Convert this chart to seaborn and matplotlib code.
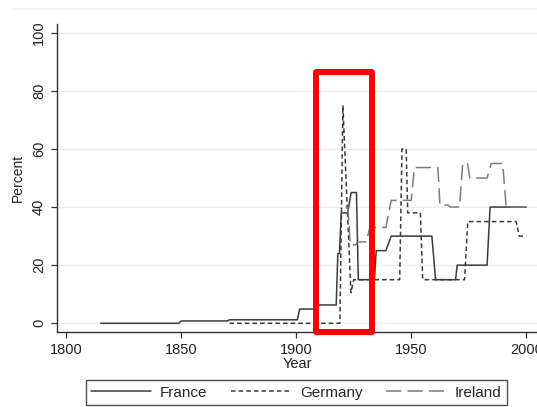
import matplotlib
matplotlib.use("Agg")
import matplotlib.pyplot as plt
from matplotlib.patches import Rectangle
from matplotlib.lines import Line2D
import seaborn as sns
import pandas as pd

# series (year, percent)
france_years = [1815, 1849, 1850, 1870, 1871, 1900.5, 1901.5, 1909, 1910, 1917.4, 1918.1, 1918.8,
                1919.6, 1922.4, 1923.9, 1926.2, 1927, 1934, 1934.8, 1939, 1941.3, 1959, 1960.6,
                1969.3, 1970, 1983, 1984.3, 2000]
france_pct = [0, 0, 0.8, 0.8, 1.2, 1.2, 4.9, 4.9, 6.3, 6.3, 24, 24,
              38, 38, 45, 45, 15, 15, 25, 25, 30, 30, 15,
              15, 20, 20, 40, 40]

germany_years = [1871, 1919, 1920.3, 1923.8, 1925, 1945, 1946, 1947.8, 1948.5, 1954, 1955,
                 1973.2, 1974.6, 1995.6, 1997, 2000]
germany_pct = [0, 0, 75, 10.5, 15, 15, 60, 60, 38, 38, 15,
               15, 35, 35, 30, 30]

ireland_years = [1921.5, 1922.5, 1923.5, 1926, 1926.5, 1930.5, 1932, 1939, 1941.3, 1950, 1951.4,
                 1961.6, 1962.5, 1966, 1967, 1971, 1972.4, 1974.5, 1975.5, 1983, 1984.8, 1989.8,
                 1991.3, 2000]
ireland_pct = [40, 40, 27, 27, 28, 28, 33, 33, 42.3, 42.3, 53.6,
               53.6, 40.7, 40.7, 40, 40, 55, 55, 50, 50, 55, 55,
               40, 40]

countries = ["France", "Germany", "Ireland"]
x_ticks = [1800, 1850, 1900, 1950, 2000]
y_ticks = [0, 20, 40, 60, 80, 100]

# highlighted window (years / percent) marked by the red box
box_years = (1908.7, 1932.9)
box_pct = (-3.0, 86.4)

df = pd.concat([
    pd.DataFrame({"Year": france_years, "Percent": france_pct, "country": "France"}),
    pd.DataFrame({"Year": germany_years, "Percent": germany_pct, "country": "Germany"}),
    pd.DataFrame({"Year": ireland_years, "Percent": ireland_pct, "country": "Ireland"}),
])

sns.set_style("white")
plt.rcParams["font.family"] = ["Liberation Sans", "DejaVu Sans"]

styles = {
    "France": dict(color="#3a3a3a", dashes=(None, None)),
    "Germany": dict(color="#3a3a3a", dashes=(3, 2)),
    "Ireland": dict(color="#7c7c7c", dashes=(10, 4)),
}

fig = plt.figure(figsize=(5.37, 4.07), dpi=100)
ax = fig.add_axes([57 / 537, 1 - 332 / 407, 480 / 537, 308 / 407])

handles = []
for c in countries:
    sub = df[df["country"] == c]
    st = styles[c]
    sns.lineplot(data=sub, x="Year", y="Percent", ax=ax, sort=False, estimator=None,
                 color=st["color"], lw=1.1, legend=False)
    line = ax.lines[-1]
    if st["dashes"][0] is not None:
        line.set_dashes(st["dashes"])
    handles.append(Line2D([], [], color=st["color"], lw=1.1,
                          dashes=st["dashes"] if st["dashes"][0] is not None else (None, None),
                          label=c))

ax.set_xlim(1796, 2004.7)
ax.set_ylim(-3, 103)
ax.set_xticks(x_ticks)
ax.set_yticks(y_ticks)
ax.yaxis.grid(True, color="#eeeeee", lw=0.9)
ax.set_axisbelow(True)
sns.despine(ax=ax)
for s in ["left", "bottom"]:
    ax.spines[s].set_color("#333333")
    ax.spines[s].set_linewidth(1.0)
ax.tick_params(axis="both", length=4, width=0.9, color="#333333", labelsize=10.5,
               labelcolor="#222222", pad=4, left=True, bottom=True)
for lab in ax.get_yticklabels():
    lab.set_rotation(90)
    lab.set_va("center")
ax.set_xlabel("Year", fontsize=10.5, color="#222222", labelpad=0)
ax.set_ylabel("Percent", fontsize=10, color="#222222", labelpad=5)

ax.legend(handles=handles, loc="center", ncol=3, bbox_to_anchor=(296.5 / 537, 1 - 392.8 / 407),
          bbox_transform=fig.transFigure, fontsize=11, frameon=True, fancybox=False,
          edgecolor="#222222", handlelength=3.9, handletextpad=0.6, columnspacing=1.55,
          borderpad=0.35)
ax.get_legend().get_frame().set_linewidth(1.0)

# faint outer graph region line at top
fig.add_artist(Line2D([13 / 537, 1], [1 - 9 / 407] * 2, color="#f2f2f2", lw=1.5,
                      transform=fig.transFigure))

ax.add_patch(Rectangle((box_years[0], box_pct[0]), box_years[1] - box_years[0],
                       box_pct[1] - box_pct[0], fill=False, edgecolor="#ff0000", lw=4.3,
                       joinstyle="round", clip_on=False, zorder=10))

fig.savefig("out.png", dpi=100)
